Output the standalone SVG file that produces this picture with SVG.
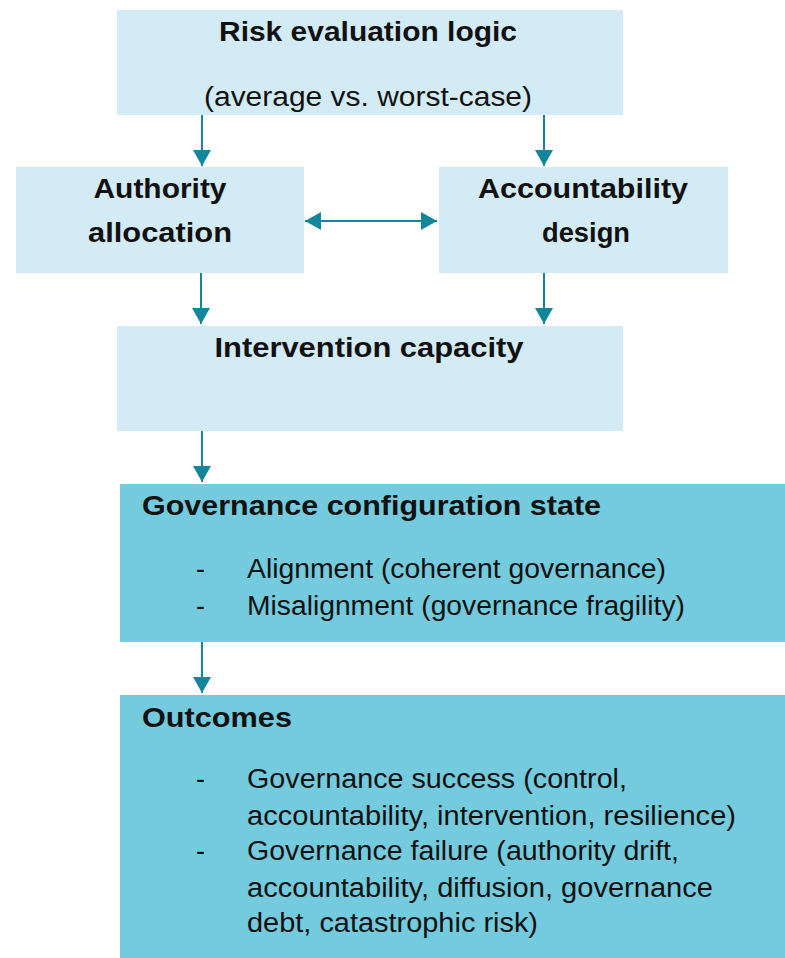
<svg xmlns="http://www.w3.org/2000/svg" width="785" height="958" viewBox="0 0 785 958">
  <defs>
    <marker id="arrow" markerUnits="userSpaceOnUse" markerWidth="18" markerHeight="18" viewBox="0 0 16 18" refX="16" refY="9" orient="auto-start-reverse">
      <path d="M0,0 L16,9 L0,18 Z" fill="#14869B"/>
    </marker>
    <style>
      .light { fill: #D3EBF4; }
      .dark { fill: #74CBDD; }
      .t { font-family: "Liberation Sans", Arial, sans-serif; font-size: 27px; fill: #111; }
      .b { font-weight: bold; }
      .c { text-anchor: middle; }
      .conn { stroke: #14869B; stroke-width: 2; fill: none; marker-end: url(#arrow); }
      .both { marker-start: url(#arrow); }
    </style>
  </defs>
  <rect width="785" height="958" fill="#FFFFFF"/>

  <g id="risk-evaluation">
    <rect class="light" x="117" y="10" width="506" height="105"/>
    <text class="t b c" x="368" y="41" textLength="298" lengthAdjust="spacingAndGlyphs">Risk evaluation logic</text>
    <text class="t c" x="368" y="106" textLength="328" lengthAdjust="spacingAndGlyphs">(average vs. worst-case)</text>
  </g>

  <g id="authority-allocation">
    <rect class="light" x="16" y="167" width="288" height="106"/>
    <text class="t b c" x="160" y="198" textLength="133" lengthAdjust="spacingAndGlyphs">Authority</text>
    <text class="t b c" x="160" y="242" textLength="144" lengthAdjust="spacingAndGlyphs">allocation</text>
  </g>

  <g id="accountability-design">
    <rect class="light" x="439" y="167" width="289" height="106"/>
    <text class="t b c" x="583" y="198" textLength="210" lengthAdjust="spacingAndGlyphs">Accountability</text>
    <text class="t b c" x="586" y="242" textLength="88" lengthAdjust="spacingAndGlyphs">design</text>
  </g>

  <g id="intervention-capacity">
    <rect class="light" x="117" y="326" width="506" height="105"/>
    <text class="t b c" x="369" y="357" textLength="309" lengthAdjust="spacingAndGlyphs">Intervention capacity</text>
  </g>

  <g id="configuration-state">
    <rect class="dark" x="120" y="484" width="665" height="158"/>
    <text class="t b" x="142" y="515" textLength="459" lengthAdjust="spacingAndGlyphs">Governance configuration state</text>
    <text class="t" x="196" y="578">-</text>
    <text class="t" x="247" y="578" textLength="419" lengthAdjust="spacingAndGlyphs">Alignment (coherent governance)</text>
    <text class="t" x="196" y="615">-</text>
    <text class="t" x="247" y="615" textLength="438" lengthAdjust="spacingAndGlyphs">Misalignment (governance fragility)</text>
  </g>

  <g id="outcomes">
    <rect class="dark" x="120" y="695" width="665" height="263"/>
    <text class="t b" x="142" y="727" textLength="150" lengthAdjust="spacingAndGlyphs">Outcomes</text>
    <text class="t" x="196" y="788">-</text>
    <text class="t" x="247" y="788" textLength="380" lengthAdjust="spacingAndGlyphs">Governance success (control,</text>
    <text class="t" x="247" y="825" textLength="489" lengthAdjust="spacingAndGlyphs">accountability, intervention, resilience)</text>
    <text class="t" x="196" y="860">-</text>
    <text class="t" x="247" y="860" textLength="432" lengthAdjust="spacingAndGlyphs">Governance failure (authority drift,</text>
    <text class="t" x="247" y="897" textLength="466" lengthAdjust="spacingAndGlyphs">accountability, diffusion, governance</text>
    <text class="t" x="247" y="932" textLength="291" lengthAdjust="spacingAndGlyphs">debt, catastrophic risk)</text>
  </g>

  <g id="connectors">
    <line class="conn" x1="202" y1="115" x2="202" y2="166"/>
    <line class="conn" x1="544" y1="115" x2="544" y2="166"/>
    <line class="conn both" x1="305" y1="221" x2="437" y2="221"/>
    <line class="conn" x1="201" y1="273" x2="201" y2="324"/>
    <line class="conn" x1="544" y1="273" x2="544" y2="324"/>
    <line class="conn" x1="202" y1="431" x2="202" y2="482"/>
    <line class="conn" x1="202" y1="642" x2="202" y2="693"/>
  </g>
</svg>
